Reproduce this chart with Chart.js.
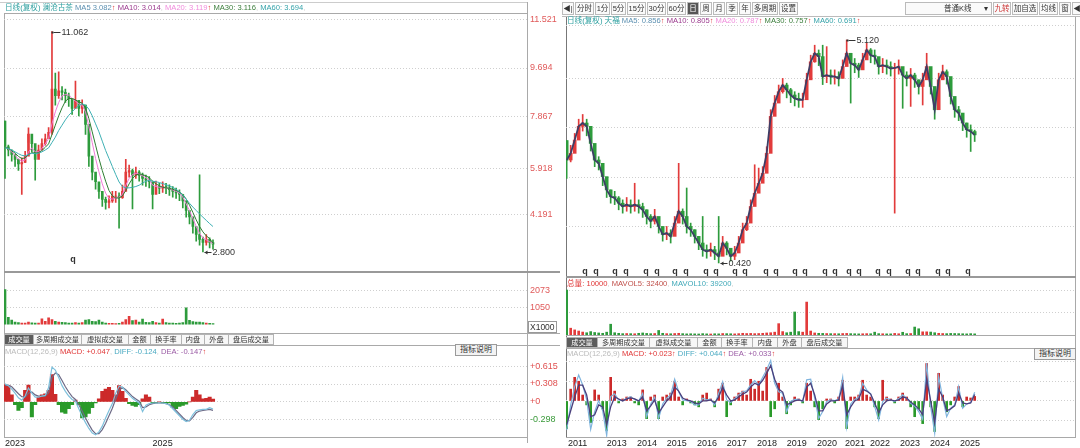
<!DOCTYPE html>
<html>
<head>
<meta charset="utf-8">
<script src="https://cdn.jsdelivr.net/npm/chart.js@4.4.1/dist/chart.umd.min.js"></script>
<style>
body{margin:0;width:1080px;height:448px;background:#fff;position:relative;overflow:hidden;font-family:"Liberation Sans","Noto Sans CJK SC",sans-serif;font-size:9px;color:#333}
canvas{position:absolute}
.ln{position:absolute;background:#a9a9a9}
.hd{position:absolute;white-space:nowrap;font-size:7.6px;line-height:10px}
.hd .up{color:#e03535}
.hd .sep{color:#ccc}
.tabs{position:absolute;display:flex;height:11px;border-left:1px solid #b4b4b4}
.tabs span{border:1px solid #b4b4b4;border-left:none;line-height:9px;font-size:7.2px;background:#f7f7f7;color:#333;text-align:center;white-space:nowrap;overflow:hidden}
.tabs span.on{background:#5c5c5c;color:#fff}
.btn{position:absolute;border:1px solid #9a9a9a;background:#f3f3f3;font-size:8px;line-height:10px;padding:0 4px;white-space:nowrap}
.tb{position:absolute;display:flex;top:2px;height:13px}
.tb span{border:1px solid #bbb;margin-right:1px;line-height:11px;font-size:7.5px;background:#fafafa;text-align:center;white-space:nowrap;overflow:hidden}
.tb span.on{background:#555;color:#fff}
.x1000{position:absolute;left:528px;top:321px;border:1px solid #999;font-size:8.5px;line-height:10px;padding:0 1px;color:#333}
</style>
</head>
<body>

<!-- 左面板框线 -->
<div class="ln" style="left:0;top:2px;width:528px;height:1px;background:#ccc"></div>
<div class="ln" style="left:4px;top:13px;width:524px;height:1px"></div>
<div class="ln" style="left:4px;top:13px;width:1px;height:424px"></div>
<div class="ln" style="left:527px;top:2px;width:1px;height:441px"></div>
<div class="ln" style="left:4px;top:271px;width:556px;height:2px;background:#999"></div>
<div class="ln" style="left:4px;top:333px;width:556px;height:1px"></div>
<div class="ln" style="left:4px;top:345px;width:556px;height:1px"></div>
<div class="ln" style="left:4px;top:437px;width:524px;height:1px"></div>

<!-- 右面板框线 -->
<div class="ln" style="left:562px;top:16px;width:518px;height:1px;background:#bbb"></div>
<div class="ln" style="left:566px;top:17px;width:1px;height:421px;background:#777"></div>
<div class="ln" style="left:1075px;top:17px;width:1px;height:421px"></div>
<div class="ln" style="left:566px;top:276px;width:510px;height:2px;background:#999"></div>
<div class="ln" style="left:566px;top:335px;width:510px;height:1px"></div>
<div class="ln" style="left:566px;top:348px;width:510px;height:1px"></div>
<div class="ln" style="left:566px;top:437px;width:510px;height:1px"></div>

<canvas id="lp" width="556" height="264" style="left:4px;top:8px"></canvas>
<canvas id="lv" width="556" height="61" style="left:4px;top:272px"></canvas>
<canvas id="lm" width="556" height="103" style="left:4px;top:345px"></canvas>
<canvas id="rp" width="509" height="251" style="left:566px;top:25px"></canvas>
<canvas id="rv" width="509" height="47" style="left:566px;top:288px"></canvas>
<canvas id="rm" width="509" height="90" style="left:566px;top:358px"></canvas>

<div class="hd" style="left:5px;top:3px"><span style="color:#2fa0a0">日线(复权) 澜沧古茶</span> <span style="color:#5b8fb0">MA5 3.082</span><span class="up">↑</span> <span style="color:#9b3a8e">MA10: 3.014</span><span class="sep">, </span><span style="color:#f08bdc">MA20: 3.119</span><span class="up">↑</span> <span style="color:#3a7d3a">MA30: 3.116</span><span class="sep">, </span><span style="color:#35a3aa">MA60: 3.694</span><span class="sep">,</span></div>
<div class="x1000">X1000</div>
<div class="tabs" style="left:4px;top:334px"><span class="on" style="width:28px">成交量</span><span style="width:47px">多周期成交量</span><span style="width:46px">虚拟成交量</span><span style="width:21px">金额</span><span style="width:30px">换手率</span><span style="width:22px">内盘</span><span style="width:23px">外盘</span><span style="width:44px">盘后成交量</span></div>
<div class="hd" style="left:5px;top:347px"><span style="color:#bbb">MACD(12,26,9)</span> <span style="color:#e03535">MACD: +0.047</span><span class="sep">, </span><span style="color:#4aaac2">DIFF: -0.124</span><span class="sep">, </span><span style="color:#9a5aa4">DEA: -0.147</span><span class="up">↑</span></div>
<div class="btn" style="left:455px;top:344px">指标说明</div>

<div class="tb" style="left:562px"><span style="width:10px">◀|</span><span style="width:17px">分时</span><span style="width:13px">1分</span><span style="width:13px">5分</span><span style="width:17px">15分</span><span style="width:17px">30分</span><span style="width:17px">60分</span><span class="on" style="width:10px">日</span><span style="width:10px">周</span><span style="width:10px">月</span><span style="width:10px">季</span><span style="width:10px">年</span><span style="width:24px">多周期</span><span style="width:17px">设置</span></div>
<div class="tb" style="left:905px"><span style="width:82px;text-align:right;padding-right:3px">普通K线 &nbsp; &nbsp; &nbsp;▾</span><span style="width:16px;color:#c33">九转</span><span style="width:24px">加自选</span><span style="width:17px">均线</span><span style="width:10px">窗</span><span style="width:10px">◀|</span><span style="width:7px;border:none">▾</span></div>
<div class="hd" style="left:567px;top:16px"><span style="color:#2fa0a0">日线(复权) 天福</span> <span style="color:#5b8fb0">MA5: 0.856</span><span class="up">↑</span> <span style="color:#9b3a8e">MA10: 0.805</span><span class="up">↑</span> <span style="color:#f08bdc">MA20: 0.787</span><span class="up">↑</span> <span style="color:#3a7d3a">MA30: 0.757</span><span class="up">↑</span> <span style="color:#35a3aa">MA60: 0.691</span><span class="up">↑</span></div>
<div class="hd" style="left:567px;top:279px"><span style="color:#e03535">总量: 10000</span><span class="sep">, </span><span style="color:#c0504a">MAVOL5: 32400</span><span class="sep">, </span><span style="color:#3fa8b8">MAVOL10: 39200</span><span class="sep">,</span></div>
<div class="tabs" style="left:566px;top:337px"><span class="on" style="width:30px">成交量</span><span style="width:51px">多周期成交量</span><span style="width:47px">虚拟成交量</span><span style="width:23px">金额</span><span style="width:30px">换手率</span><span style="width:24px">内盘</span><span style="width:23px">外盘</span><span style="width:45px">盘后成交量</span></div>
<div class="hd" style="left:567px;top:349px"><span style="color:#bbb">MACD(12,26,9)</span> <span style="color:#e03535">MACD: +0.023</span><span class="up">↑</span> <span style="color:#4aaac2">DIFF: +0.044</span><span class="up">↑</span> <span style="color:#9a5aa4">DEA: +0.033</span><span class="up">↑</span></div>
<div class="btn" style="left:1034px;top:348px">指标说明</div>

<script>
// ---------- 左：澜沧古茶 ----------
const leftClose = [6.74, 6.62, 6.45, 6.27, 6.10, 6.15, 6.39, 7.22, 6.86, 6.27,
  6.62, 6.86, 7.04, 7.28, 8.90, 8.66, 8.84, 8.78, 8.66, 8.54,
  8.18, 8.48, 8.18, 8.30, 7.58, 6.39, 5.79, 5.43, 5.07, 4.77,
  4.65, 4.71, 4.89, 4.89, 4.83, 5.07, 5.79, 5.85, 5.67, 5.79,
  5.67, 5.55, 5.49, 5.43, 4.95, 5.25, 5.19, 5.25, 5.19, 5.13,
  5.07, 5.01, 4.95, 4.71, 4.35, 4.11, 3.75, 3.45, 3.27, 3.15,
  3.27, 3.15, 3.09];
const leftHigh = [7.70, 6.80, 6.62, 6.45, 6.28, 6.33, 6.57, 7.45, 7.10, 6.50,
  6.80, 7.04, 7.22, 7.46, 11.062, 9.50, 9.55, 9.00, 8.90, 8.75,
  8.40, 9.20, 8.40, 8.50, 8.30, 7.00, 6.10, 5.65, 5.30, 4.95,
  4.85, 4.90, 5.07, 5.07, 5.01, 5.30, 6.27, 6.05, 5.90, 5.98,
  5.85, 5.75, 5.68, 5.62, 5.20, 5.45, 5.37, 5.43, 5.37, 5.31,
  5.25, 5.19, 5.13, 4.95, 4.60, 4.35, 4.00, 3.70, 5.69, 3.35,
  3.45, 3.33, 3.25];
const leftLow = [5.55, 6.40, 6.20, 6.00, 5.85, 4.95, 6.15, 6.90, 6.55, 5.49,
  6.40, 6.62, 6.80, 7.05, 7.20, 8.30, 8.55, 8.50, 8.40, 8.25,
  7.95, 8.20, 7.90, 8.00, 7.20, 6.00, 5.50, 5.15, 4.80, 4.50,
  4.40, 4.45, 4.65, 4.65, 3.69, 4.80, 5.50, 5.60, 4.41, 5.55,
  5.45, 5.30, 5.25, 5.20, 4.41, 5.00, 4.98, 5.03, 4.98, 4.92,
  4.85, 4.80, 4.72, 4.45, 4.10, 3.85, 3.50, 3.20, 3.05, 2.80,
  3.05, 2.95, 2.90];
const leftMa20 = [6.73, 6.66, 6.55, 6.42, 6.28, 6.20, 6.25, 6.55, 6.70, 6.55,
  6.55, 6.68, 6.85, 7.05, 7.60, 8.05, 8.40, 8.65, 8.70, 8.68,
  8.55, 8.45, 8.35, 8.30, 8.05, 7.50, 6.90, 6.30, 5.80, 5.35,
  5.00, 4.80, 4.78, 4.82, 4.85, 4.95, 5.30, 5.55, 5.70, 5.75,
  5.72, 5.65, 5.58, 5.50, 5.30, 5.25, 5.22, 5.22, 5.20, 5.17,
  5.12, 5.07, 5.00, 4.85, 4.60, 4.35, 4.05, 3.75, 3.50, 3.32,
  3.25, 3.18, 3.12];
const leftMa30 = [6.72, 6.68, 6.60, 6.50, 6.38, 6.30, 6.32, 6.45, 6.52, 6.50,
  6.52, 6.60, 6.72, 6.85, 7.20, 7.55, 7.90, 8.20, 8.45, 8.55,
  8.55, 8.50, 8.42, 8.38, 8.20, 7.80, 7.30, 6.80, 6.30, 5.85,
  5.45, 5.10, 4.90, 4.82, 4.82, 4.90, 5.10, 5.35, 5.55, 5.68,
  5.72, 5.70, 5.65, 5.58, 5.45, 5.35, 5.28, 5.22, 5.20, 5.18,
  5.15, 5.10, 5.05, 4.95, 4.78, 4.55, 4.28, 4.00, 3.75, 3.55,
  3.40, 3.30, 3.12];
const leftMa60 = [6.70, 6.68, 6.62, 6.55, 6.48, 6.42, 6.40, 6.45, 6.50, 6.48,
  6.50, 6.55, 6.62, 6.70, 6.90, 7.10, 7.35, 7.55, 7.75, 7.92,
  8.05, 8.18, 8.28, 8.35, 8.30, 8.15, 7.90, 7.60, 7.30, 6.95,
  6.60, 6.30, 6.00, 5.70, 5.42, 5.25, 5.20, 5.20, 5.22, 5.25,
  5.30, 5.38, 5.45, 5.48, 5.45, 5.43, 5.40, 5.36, 5.32, 5.27,
  5.22, 5.15, 5.05, 4.93, 4.78, 4.62, 4.48, 4.35, 4.22, 4.10,
  3.98, 3.86, 3.75];
const leftVol = [2136, 450, 280, 160, 120, 100, 90, 150, 110, 100,
  90, 360, 200, 420, 300, 200, 150, 140, 120, 100,
  90, 120, 90, 130, 280, 300, 200, 180, 280, 150,
  100, 80, 70, 60, 80, 150, 300, 500, 250, 280,
  150, 330, 140, 120, 200, 130, 100, 330, 120, 100,
  90, 80, 90, 120, 1020, 260, 180, 150, 160, 120,
  100, 80, 60];
const leftMacd = [0.30, 0.28, 0.12, -0.05, -0.15, -0.10, 0.20, 0.29, -0.26, -0.05,
  0.08, 0.12, 0.14, 0.20, 0.47, 0.13, -0.05, -0.18, -0.20, -0.12,
  -0.05, 0.03, -0.05, -0.28, -0.26, -0.20, -0.10, -0.02, 0.05, 0.18,
  0.22, 0.25, 0.20, 0.12, 0.28, 0.18, 0.06, -0.03, -0.06, -0.08,
  -0.05, 0.05, 0.12, 0.08, -0.03, -0.02, 0.00, -0.02, -0.03, -0.02,
  -0.10, -0.12, -0.08, -0.06, -0.04, 0.00, 0.08, 0.20, 0.12, 0.05,
  0.06, 0.08, 0.047];
const leftDiff = [0.31, 0.28, 0.22, 0.15, 0.07, 0.03, 0.10, 0.24, 0.15, 0.08,
  0.08, 0.10, 0.11, 0.25, 0.60, 0.55, 0.42, 0.28, 0.18, 0.10,
  0.04, 0.01, -0.12, -0.25, -0.36, -0.46, -0.54, -0.57, -0.52, -0.42,
  -0.28, -0.15, -0.03, 0.15, 0.27, 0.25, 0.18, 0.12, 0.06, 0.02,
  -0.02, -0.17, -0.06, -0.03, -0.02, -0.02, -0.02, -0.02, -0.03, -0.06,
  -0.12, -0.18, -0.24, -0.30, -0.34, -0.32, -0.22, -0.15, -0.14, -0.13,
  -0.13, -0.10, -0.124];
const leftDea = [0.28, 0.29, 0.26, 0.20, 0.14, 0.09, 0.08, 0.15, 0.17, 0.12,
  0.10, 0.10, 0.10, 0.16, 0.42, 0.50, 0.47, 0.37, 0.26, 0.17,
  0.09, 0.04, -0.05, -0.16, -0.28, -0.39, -0.49, -0.55, -0.55, -0.48,
  -0.37, -0.24, -0.11, 0.05, 0.20, 0.25, 0.21, 0.15, 0.09, 0.05,
  0.01, -0.10, -0.09, -0.05, -0.03, -0.02, -0.02, -0.02, -0.03, -0.05,
  -0.09, -0.15, -0.21, -0.27, -0.32, -0.33, -0.27, -0.19, -0.16, -0.15,
  -0.14, -0.13, -0.147];
const leftYearPos = [0, 44];
const leftYearText = ['2023', '2025'];
const leftQ = [20.3];
const leftPriceTicks = [11.521, 9.694, 7.867, 5.918, 4.191];
const leftVolTicks = [2073, 1050];
const leftMacdTicks = [0.615, 0.308, 0, -0.298];

// ---------- 右：天福 ----------
const rightClose = [2.59, 2.73, 3.01, 3.30, 3.37, 3.30, 2.94, 2.59, 2.52, 2.24,
  1.96, 1.82, 1.79, 1.68, 1.61, 1.65, 1.61, 1.65, 1.61, 1.54,
  1.40, 1.30, 1.40, 1.19, 1.02, 1.05, 0.98, 1.26, 1.51, 1.40,
  1.19, 1.12, 0.98, 0.84, 0.70, 0.66, 0.70, 0.63, 0.56, 0.84,
  0.73, 0.56, 0.63, 0.84, 1.12, 1.26, 1.61, 1.89, 2.10, 2.31,
  2.73, 3.51, 3.79, 4.03, 4.17, 4.07, 3.96, 3.89, 3.86, 3.86,
  4.28, 4.66, 4.84, 4.77, 4.35, 4.38, 4.35, 4.35, 4.31, 4.56,
  4.84, 4.63, 4.59, 4.49, 4.70, 4.91, 4.80, 4.77, 4.56, 4.59,
  4.56, 4.52, 4.53, 4.56, 4.38, 4.31, 4.38, 4.28, 4.14, 4.28,
  4.56, 4.14, 3.65, 4.28, 4.45, 4.35, 3.93, 3.65, 3.58, 3.37,
  3.23, 3.19, 3.12];
const rightHigh = [3.00, 2.90, 3.15, 3.45, 3.55, 3.45, 3.05, 2.75, 2.66, 2.40,
  2.10, 1.96, 1.93, 1.82, 1.75, 1.80, 1.75, 2.10, 1.75, 1.68,
  1.54, 1.44, 1.55, 1.33, 1.16, 1.19, 1.12, 1.40, 2.52, 1.56,
  2.00, 1.26, 1.12, 0.98, 1.40, 0.80, 0.84, 0.77, 1.40, 0.98,
  0.87, 0.70, 0.77, 0.98, 1.26, 1.40, 1.75, 2.49, 2.42, 2.45,
  2.87, 3.65, 3.95, 4.17, 4.31, 4.21, 4.10, 4.03, 4.00, 4.00,
  4.42, 4.80, 5.01, 4.91, 5.01, 4.98, 4.49, 4.49, 4.45, 4.70,
  5.12, 4.77, 4.73, 4.63, 4.84, 5.05, 4.94, 4.91, 4.70, 4.73,
  4.70, 4.66, 4.63, 4.70, 4.52, 4.45, 4.52, 4.42, 4.28, 4.42,
  4.84, 4.28, 3.79, 4.42, 4.59, 4.49, 4.07, 3.79, 3.72, 3.51,
  3.37, 3.33, 3.22];
const rightLow = [2.20, 2.55, 2.80, 3.10, 3.20, 3.10, 2.78, 2.45, 2.38, 2.05,
  1.80, 1.68, 1.65, 1.54, 1.47, 1.51, 1.47, 1.51, 1.47, 1.38,
  1.24, 1.16, 1.24, 1.05, 0.88, 0.91, 0.84, 1.08, 1.35, 1.24,
  1.05, 0.98, 0.84, 0.70, 0.56, 0.52, 0.56, 0.49, 0.42, 0.66,
  0.59, 0.46, 0.49, 0.70, 0.95, 1.10, 1.45, 1.72, 1.94, 2.15,
  2.55, 3.30, 3.60, 3.85, 4.00, 3.90, 3.80, 3.73, 3.70, 3.70,
  4.10, 4.48, 4.65, 4.58, 4.18, 4.22, 4.19, 4.19, 4.15, 4.38,
  4.66, 3.79, 4.43, 4.33, 4.54, 4.75, 4.64, 4.61, 4.40, 4.43,
  4.40, 4.36, 1.47, 4.40, 3.68, 4.15, 3.72, 4.12, 3.98, 3.75,
  4.38, 3.98, 3.45, 4.10, 4.29, 4.19, 3.77, 3.49, 3.42, 3.21,
  3.07, 2.77, 2.98];
const rightVol = [39600, 6000, 4500, 3500, 2600, 2000, 3000, 2200, 1800, 1500,
  2500, 9500, 2000, 1500, 1200, 1300, 1200, 1100, 1500, 1800,
  1400, 1200, 1300, 4000, 1500, 1200, 1100, 1300, 1500, 1200,
  1000, 1100, 1000, 900, 1200, 1000, 900, 1100, 1000, 1300,
  1200, 1100, 1000, 1200, 1500, 1300, 1400, 1200, 1300, 1500,
  1800, 2000, 2500, 10000, 3000, 2000, 2500, 20300, 3000, 2500,
  29000, 3500, 1800, 1500, 1400, 1300, 1200, 1200, 1100, 1300,
  1400, 1200, 1100, 1000, 1100, 1200, 1100, 2500, 1200, 1100,
  1000, 1000, 1400, 1100, 2400, 1200, 1300, 7000, 5500, 2800,
  2800, 2600, 2000, 1500, 1300, 1200, 1400, 1300, 1200, 1100,
  1000, 1200, 1000];
const rightMacd = [-0.14, 0.06, 0.12, 0.10, 0.03, -0.02, -0.11, 0.056, 0.03, -0.04,
  -0.15, 0.12, 0.05, -0.01, 0.01, 0.02, 0.02, -0.01, -0.02, 0.056,
  -0.09, 0.02, 0.03, -0.09, 0.02, 0.03, 0.04, 0.10, 0.02, -0.02,
  0.01, -0.01, -0.02, -0.03, 0.03, 0.04, 0.01, -0.03, 0.06, 0.09,
  -0.08, -0.02, 0.02, 0.04, 0.05, 0.03, 0.11, 0.06, 0.10, 0.05,
  0.17, -0.08, -0.04, 0.09, 0.02, -0.065, -0.02, 0.02, 0.01, -0.01,
  0.09, 0.05, -0.03, -0.095, -0.04, 0.01, 0.01, -0.01, 0.02, 0.105,
  -0.14, 0.02, 0.02, 0.03, 0.105, 0.03, 0.02, -0.03, -0.09, 0.105,
  0.02, 0.01, -0.01, 0.02, 0.04, 0.02, -0.03, -0.08, -0.04, -0.115,
  0.19, -0.03, -0.155, 0.14, 0.03, -0.055, -0.02, 0.02, 0.073, -0.03,
  0.02, 0.015, 0.023];
const rightDiff = [-0.147, -0.02, 0.073, 0.132, 0.081, 0.005, -0.144, -0.054, 0.002, -0.05,
  -0.175, 0.022, 0.036, 0.005, 0.002, 0.014, 0.022, 0.008, 0.0, 0.039,
  -0.08, -0.015, 0.019, -0.088, -0.015, 0.014, 0.031, 0.11, 0.047, 0.005,
  0.002, -0.003, -0.02, -0.02, 0.014, 0.005, 0.008, -0.02, 0.039, 0.098,
  0.005, -0.008, 0.012, 0.031, 0.047, 0.051, 0.081, 0.103, 0.081, 0.12,
  0.158, 0.205, 0.09, 0.047, 0.039, -0.054, -0.003, 0.008, 0.008, -0.003,
  0.107, 0.11, 0.014, -0.088, -0.054, -0.003, 0.005, 0.002, 0.008, 0.12,
  -0.134, -0.015, 0.008, 0.019, 0.09, 0.056, 0.036, -0.029, -0.097, -0.003,
  0.014, 0.005, -0.003, 0.012, 0.031, 0.014, -0.012, -0.025, -0.054, -0.093,
  0.192, -0.029, -0.164, 0.124, 0.014, -0.08, -0.037, -0.02, 0.073, -0.037,
  -0.015, -0.008, 0.044];
const rightDea = [-0.12, -0.05, 0.02, 0.08, 0.08, 0.03, -0.08, -0.07, -0.02, -0.03,
  -0.12, -0.03, 0.02, 0.01, 0.0, 0.01, 0.015, 0.01, 0.0, 0.02,
  -0.05, -0.025, 0.005, -0.06, -0.03, 0.0, 0.02, 0.07, 0.05, 0.015,
  0.005, 0.0, -0.01, -0.015, 0.0, 0.0, 0.005, -0.01, 0.02, 0.07,
  0.03, 0.0, 0.005, 0.02, 0.035, 0.045, 0.07, 0.09, 0.08, 0.105,
  0.14, 0.18, 0.11, 0.06, 0.045, -0.02, -0.01, 0.0, 0.005, 0.0,
  0.07, 0.09, 0.03, -0.05, -0.05, -0.015, 0.0, 0.0, 0.005, 0.08,
  -0.07, -0.03, 0.0, 0.01, 0.06, 0.05, 0.035, -0.01, -0.06, -0.02,
  0.0, 0.005, 0.0, 0.005, 0.02, 0.015, -0.005, -0.02, -0.04, -0.07,
  0.11, 0.0, -0.11, 0.06, 0.02, -0.05, -0.04, -0.025, 0.04, -0.01,
  -0.015, -0.01, 0.033];
const rightYearPos = [0.3, 10, 17.6, 25, 32.6, 40, 47.6, 55, 62.6, 69.6, 75.8, 83.3, 90.8, 98.3];
const rightYearText = ['2011', '2013', '2014', '2015', '2016', '2017', '2018', '2019', '2020', '2021', '2022', '2023', '2024', '2025'];
const rightQ = [4.6, 7.3, 12.1, 14.8, 19.8, 22.6, 27.1, 29.8, 34.8, 37.3, 42.1, 44.6, 49.8, 52.3,
  57.1, 59.6, 64.6, 67.1, 70.6, 73.1, 77.8, 80.6, 85.3, 87.8, 92.8, 95.3, 100.3];
const rightPriceTicks = [5.415, 4.298, 3.265, 2.211, 1.178];
const rightVolTicks = [39000, 20000];
const rightMacdTicks = [0.2, 0.1, 0, -0.1];

const UP = '#e23b3b', DOWN = '#2d9b3c';
const FONT = '"Liberation Sans", "Noto Sans CJK SC", sans-serif';
Chart.defaults.font.family = FONT;

const pts = a => a.map((v, i) => ({x: i, y: v}));

function candles(close, high, low) {
  const open = close.map((c, i) => i ? close[i - 1] : high[0]);
  return {
    wick: close.map((c, i) => ({x: i, y: [low[i], high[i]]})),
    body: close.map((c, i) => ({x: i, y: [open[i], c]})),
    col: close.map((c, i) => c >= open[i] ? UP : DOWN)
  };
}

// 最高/最低价标注 + q 标记
const marks = {
  id: 'marks',
  afterDatasetsDraw(chart, args, o) {
    const {ctx, chartArea: ca, scales: {x, y}} = chart;
    ctx.save();
    ctx.font = '9px ' + FONT;
    ctx.fillStyle = '#333';
    ctx.strokeStyle = '#333';
    ctx.lineWidth = 1;
    ctx.textBaseline = 'middle';
    const iHi = o.high.indexOf(Math.max(...o.high));
    const iLo = o.low.indexOf(Math.min(...o.low));
    [[iHi, o.high[iHi], false], [iLo, o.low[iLo], true]].forEach(([i, v, arrow]) => {
      const px = Math.round(x.getPixelForValue(i)) + 0.5;
      const py = Math.round(y.getPixelForValue(v)) + 0.5;
      ctx.beginPath();
      ctx.moveTo(px + 1, py);
      ctx.lineTo(px + 8, py);
      ctx.stroke();
      ctx.beginPath();
      if (arrow) {
        ctx.moveTo(px + 1, py);
        ctx.lineTo(px + 4, py - 2);
        ctx.lineTo(px + 4, py + 2);
      } else {
        ctx.rect(px - 1, py - 1, 2, 2);
      }
      ctx.fill();
      ctx.fillText(v.toFixed(3), px + 9, py);
    });
    ctx.font = 'bold 9px ' + FONT;
    ctx.textAlign = 'center';
    ctx.textBaseline = 'bottom';
    o.q.forEach(i => ctx.fillText('q', x.getPixelForValue(i), ca.bottom));
    ctx.restore();
  }
};

function yAxis(o) {
  return {
    type: 'linear', position: 'right', min: o.min, max: o.max,
    afterBuildTicks: s => { s.ticks = o.ticks.map(v => ({value: v})); },
    afterFit: s => { s.width = o.width || 0; },
    grid: {color: '#cfcfcf', drawTicks: false},
    border: {display: false, dash: [1, 2]},
    ticks: o.label
      ? {padding: 3, font: {size: 9}, color: o.color, callback: o.label}
      : {display: false}
  };
}

function xAxis(min, max, pos, text) {
  if (!pos) return {type: 'linear', min, max, offset: false, display: false};
  return {
    type: 'linear', min, max, offset: false,
    grid: {display: false, drawTicks: false, offset: false},
    border: {display: false},
    afterBuildTicks: s => { s.ticks = pos.map(v => ({value: v})); },
    afterFit: s => { s.height = 11; },
    ticks: {autoSkip: false, maxRotation: 0, align: 'start', padding: 1,
      color: '#222', font: {size: 9}, callback: v => text[pos.indexOf(v)]}
  };
}

function line(data, color, w, order) {
  return {type: 'line', data: pts(data), borderColor: color, borderWidth: w || 1,
    pointRadius: 0, tension: 0, order: order === undefined ? 1 : order};
}

function makeChart(id, datasets, x, y, pad, mk) {
  return new Chart(document.getElementById(id), {
    type: 'bar',
    data: {datasets},
    options: {
      responsive: false, animation: false, devicePixelRatio: 1,
      layout: {padding: pad || 0},
      plugins: {legend: {display: false}, tooltip: {enabled: false}, marks: mk || false},
      scales: {x, y}
    },
    plugins: [marks]
  });
}

const macdColor = a => a.map(v => v >= 0 ? '#cc2a2a' : '#2a9a2a');
const macdLabel = v => v < 0 ? String(v) : '+' + v;
const macdTickColor = c => c.tick && c.tick.value < 0 ? '#3a9a3a' : '#e05050';

// ---- 左：K线 ----
const lc = candles(leftClose, leftHigh, leftLow);
makeChart('lp', [
  {data: lc.wick, backgroundColor: lc.col, barThickness: 1, grouped: false, order: 3},
  {data: lc.body, backgroundColor: lc.col, barThickness: 2, grouped: false, order: 2},
  line(leftMa60, '#3fb0b4'),
  line(leftMa30, '#2f7d32'),
  line(leftMa20, '#f07ad8')
], xAxis(-0.3, 155.6),
   yAxis({min: 2.36, max: 11.629, ticks: leftPriceTicks, width: 33, color: '#e05a5a', label: v => v.toFixed(3)}),
   {top: 6}, {high: leftHigh, low: leftLow, q: leftQ});

// ---- 左：成交量 ----
makeChart('lv', [
  {data: pts(leftVol), backgroundColor: lc.col, barThickness: 2, grouped: false}
], xAxis(-0.3, 155.6),
   yAxis({min: 0, max: 2700, ticks: leftVolTicks, width: 33, color: '#e05a5a', label: v => String(v)}));

// ---- 左：MACD ----
makeChart('lm', [
  {data: pts(leftMacd), backgroundColor: macdColor(leftMacd), barThickness: 3.4, grouped: false, order: 2},
  line(leftDiff, '#7ec0dc', 1.2),
  line(leftDea, '#6d6a86', 1.2)
], xAxis(-0.3, 155.6, leftYearPos, leftYearText),
   yAxis({min: -0.608, max: 0.837, ticks: leftMacdTicks, width: 33, color: macdTickColor, label: macdLabel}));

// ---- 右：K线 ----
const rc = candles(rightClose, rightHigh, rightLow);
makeChart('rp', [
  {data: rc.wick, backgroundColor: rc.col, barThickness: 1, grouped: false, order: 3},
  {data: rc.body, backgroundColor: rc.col, barThickness: 3, grouped: false, order: 2},
  line(rightClose, '#3e3e66', 1.8)
], xAxis(-0.17, 127.08),
   yAxis({min: 0.145, max: 5.436, ticks: rightPriceTicks}),
   0, {high: rightHigh, low: rightLow, q: rightQ});

// ---- 右：成交量 ----
makeChart('rv', [
  {data: pts(rightVol), backgroundColor: rc.col, barThickness: 2, grouped: false}
], xAxis(-0.17, 127.08),
   yAxis({min: 0, max: 41400, ticks: rightVolTicks}));

// ---- 右：MACD ----
makeChart('rm', [
  {data: pts(rightMacd), backgroundColor: macdColor(rightMacd), barThickness: 2, grouped: false, order: 2},
  line(rightDiff, '#7fb4de', 1.2, 1),
  line(rightDea, '#4a3f7c', 1.3, 0)
], xAxis(-0.17, 127.08, rightYearPos, rightYearText),
   yAxis({min: -0.183, max: 0.218, ticks: rightMacdTicks}));
</script>
</body>
</html>
